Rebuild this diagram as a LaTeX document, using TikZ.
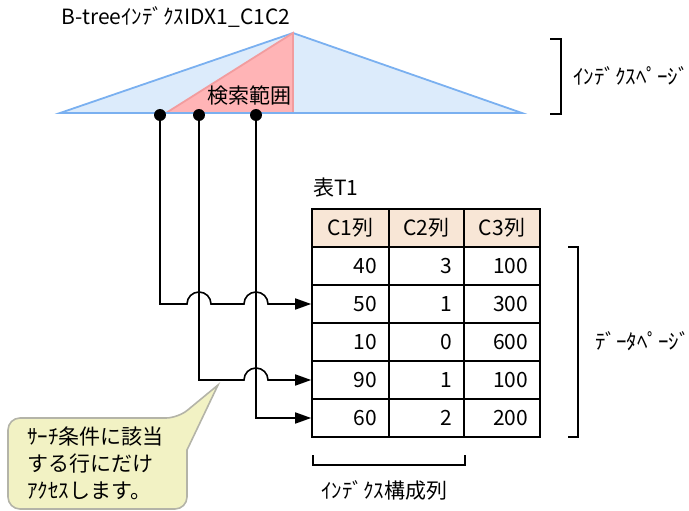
\documentclass[tikz,border=0pt]{standalone}
\usepackage{fontspec}
\setmainfont{Noto Sans CJK JP}
\usetikzlibrary{arrows.meta}
\definecolor{idxblue}{HTML}{DCEBFB}
\definecolor{idxline}{HTML}{7AB0F0}
\definecolor{rngred}{HTML}{FFB4B6}
\definecolor{rngline}{HTML}{F29C9E}
\definecolor{headfill}{HTML}{F8E6D6}
\definecolor{notefill}{HTML}{F2F2C4}
\definecolor{noteline}{HTML}{B4B4A8}
\tikzset{
  txt/.style={font=\fontsize{21}{27}\selectfont, inner sep=0pt},
  dot/.style={circle, fill=black, minimum size=12pt, inner sep=0pt},
  cell/.style={draw, line width=1.6pt, minimum height=38pt, text width=#1, align=right, inner xsep=12pt, font=\fontsize{21}{23}\selectfont},
  head/.style={cell=#1, fill=headfill, align=center},
  bracket/.style={line width=1.6pt},
  conn/.style={line width=1.6pt, -{Triangle[length=16pt,width=11pt]}},
  notebox/.style={fill=notefill, draw=noteline, line width=1.6pt}
}
\begin{document}
\begin{tikzpicture}[x=1pt,y=-1pt]
\useasboundingbox (0,0) rectangle (689,511);
\filldraw[fill=idxblue, draw=idxline, line width=1.8pt] (60,113) -- (293,33) -- (522,113) -- cycle;
\filldraw[fill=rngred, draw=rngline, line width=1.8pt] (166,113) -- (293,33) -- (293,113) -- cycle;
\draw[idxline, line width=1.8pt] (60,113) -- (522,113);
\node[txt] (title) at (176,17) {B-treeｲﾝﾃﾞｸｽIDX1\_C1C2};
\node[txt] (range) at (249,96) {検索範囲};
\node[dot] (p1) at (160,115) {};
\node[dot] (p2) at (199,115) {};
\node[dot] (p3) at (256,115) {};
\draw[bracket] (550,39) -- (561,39) -- (561,114) -- (550,114);
\node[txt, anchor=west] (ipage) at (573,76) {ｲﾝﾃﾞｸｽﾍﾟｰｼﾞ};
\node[txt, anchor=west] (T1) at (313,188) {表T1};
\node[head=53pt] (h1) at (350.5,228) {C1列};
\node[head=51pt] (h2) at (426.5,228) {C2列};
\node[head=52pt] (h3) at (502,228) {C3列};
\foreach \r/\y/\a/\b/\c in {1/266/40/3/100, 2/304/50/1/300, 3/342/10/0/600, 4/380/90/1/100, 5/418/60/2/200} {
  \node[cell=53pt] (r\r c1) at (350.5,\y) {\a};
  \node[cell=51pt] (r\r c2) at (426.5,\y) {\b};
  \node[cell=52pt] (r\r c3) at (502,\y) {\c};
}
\draw[bracket] (568,247) -- (578,247) -- (578,437) -- (568,437);
\node[txt, anchor=west] (dpage) at (595,341) {ﾃﾞｰﾀﾍﾟｰｼﾞ};
\draw[bracket] (313,455) -- (313,465) -- (465,465) -- (465,455);
\node[txt] (icols) at (384,490) {ｲﾝﾃﾞｸｽ構成列};
\draw[conn] (p1) |- ([xshift=-12pt]p2 |- r2c1.west) arc[start angle=180, end angle=0, radius=12pt]
  -- ([xshift=-12pt]p3 |- r2c1.west) arc[start angle=180, end angle=0, radius=12pt] -- (r2c1.west);
\draw[conn] (p2) |- ([xshift=-12pt]p3 |- r4c1.west) arc[start angle=180, end angle=0, radius=12pt] -- (r4c1.west);
\draw[conn] (p3) |- (r5c1.west);
\filldraw[notebox] (8,460) [rounded corners=12pt] -- (8,418) -- (178,418) [sharp corners] -- (218,385) -- (187,450)
  [rounded corners=12pt] -- (187,509) -- (8,509) -- cycle;
\node[txt, align=left, anchor=north west] (note) at (27,427) {ｻｰﾁ条件に該当\\する行にだけ\\ｱｸｾｽします。};
\end{tikzpicture}
\end{document}
